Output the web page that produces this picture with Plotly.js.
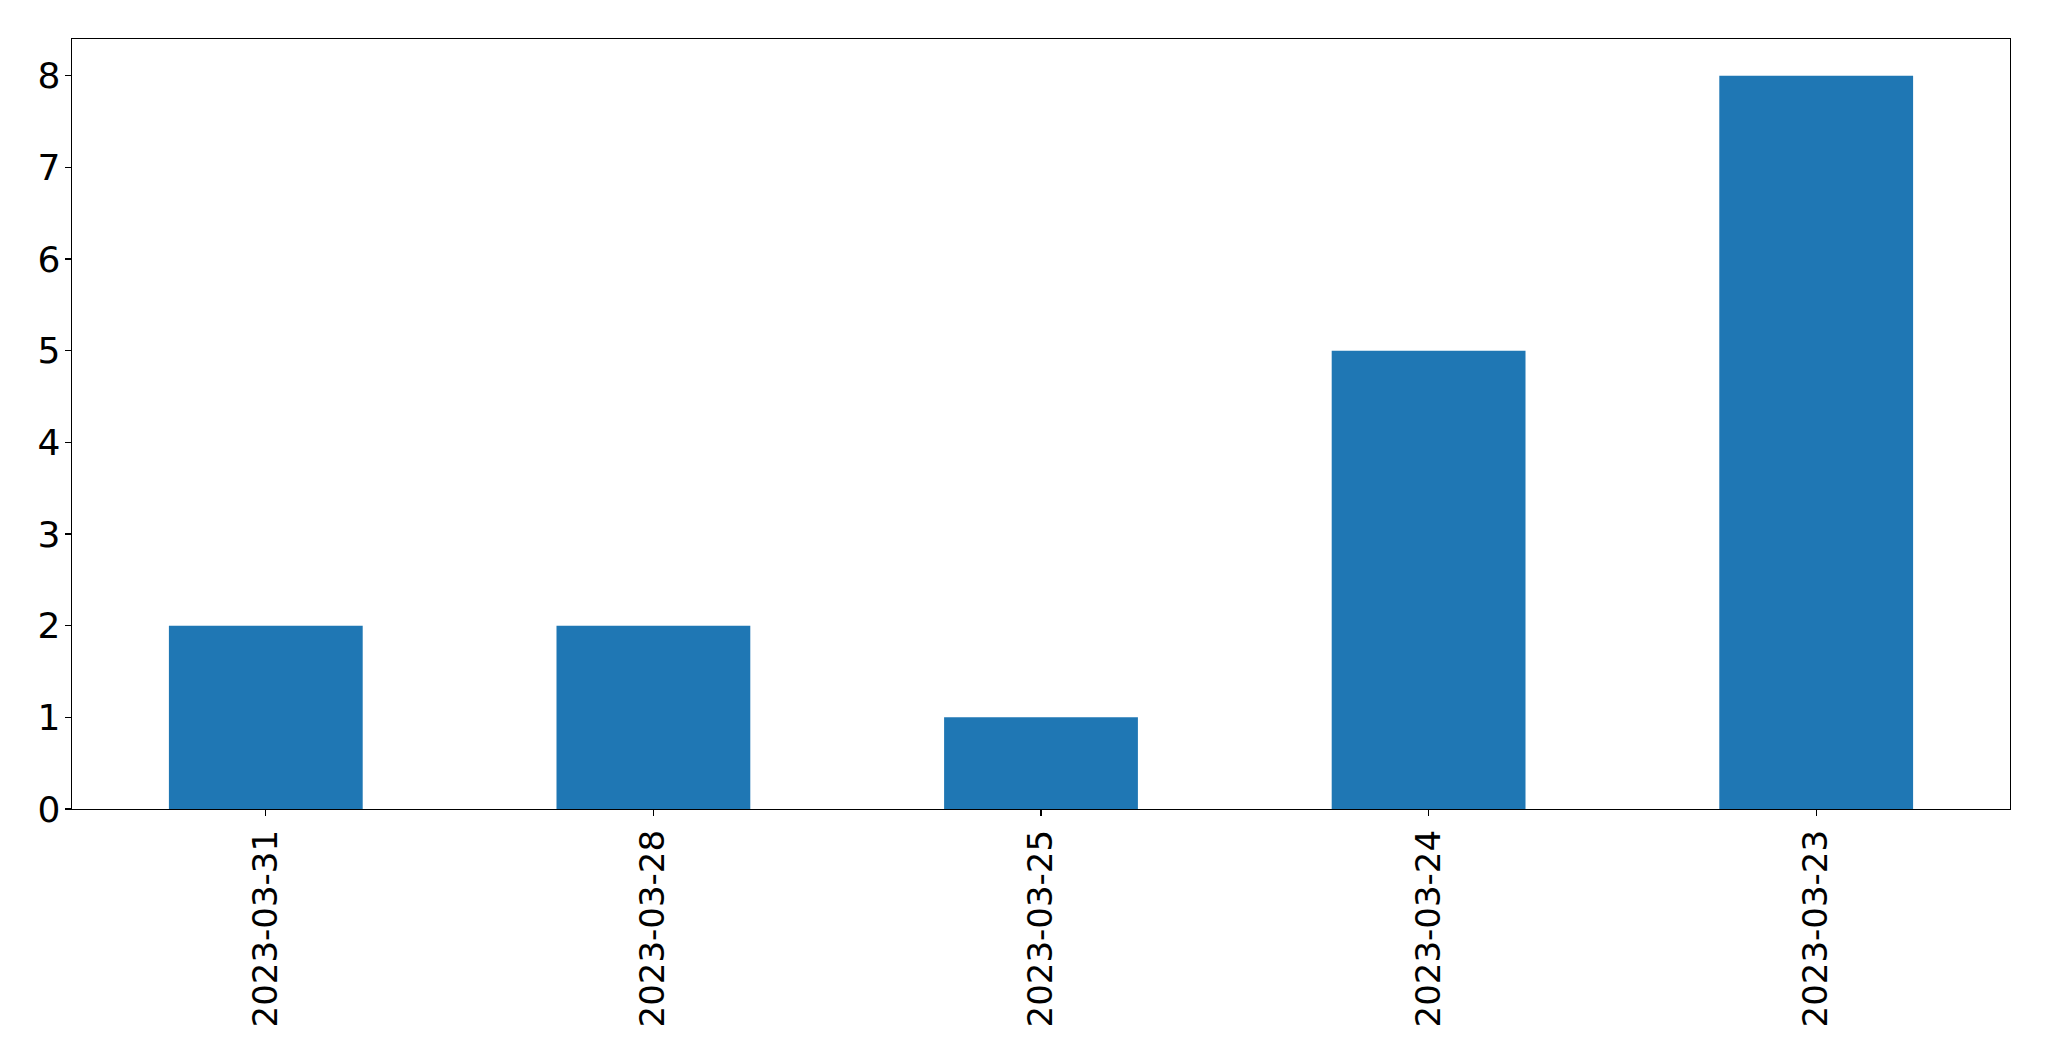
<!DOCTYPE html>
<html>
<head>
<meta charset="utf-8">
<script src="https://cdn.plot.ly/plotly-3.0.1.min.js"></script>
<style>html,body{margin:0;padding:0;background:#fff;}#chart{width:2049px;height:1061px;}</style>
</head>
<body>
<div id="chart"></div>
<script>
const categories = ["2023-03-31", "2023-03-28", "2023-03-25", "2023-03-24", "2023-03-23"];
const counts = [2, 2, 1, 5, 8];
const yTicks = [0, 1, 2, 3, 4, 5, 6, 7, 8];

const trace = {
  type: 'bar',
  x: categories,
  y: counts,
  width: 0.5,
  marker: {color: '#1f77b4', line: {width: 0}},
  hoverinfo: 'x+y'
};

const axisCommon = {
  showline: true,
  mirror: true,
  linecolor: '#000',
  linewidth: 1.3,
  ticks: 'outside',
  ticklen: 6,
  tickwidth: 1.3,
  tickcolor: '#000',
  showgrid: false,
  zeroline: false
};

const layout = {
  width: 2049,
  height: 1061,
  margin: {l: 72, r: 39, t: 39, b: 252},
  paper_bgcolor: '#fff',
  plot_bgcolor: '#fff',
  showlegend: false,
  xaxis: Object.assign({}, axisCommon, {
    type: 'category',
    range: [-0.5, 4.5],
    tickangle: -90,
    ticklabelstandoff: 0,
    tickfont: {family: 'DejaVu Sans', size: 34, color: '#000'}
  }),
  yaxis: Object.assign({}, axisCommon, {
    range: [0, 8.4],
    tickvals: yTicks,
    ticktext: yTicks.map(String),
    ticklabelstandoff: -3,
    tickfont: {family: 'DejaVu Sans', size: 36, color: '#000'}
  })
};

Plotly.newPlot('chart', [trace], layout, {displayModeBar: false, staticPlot: true});
</script>
</body>
</html>
